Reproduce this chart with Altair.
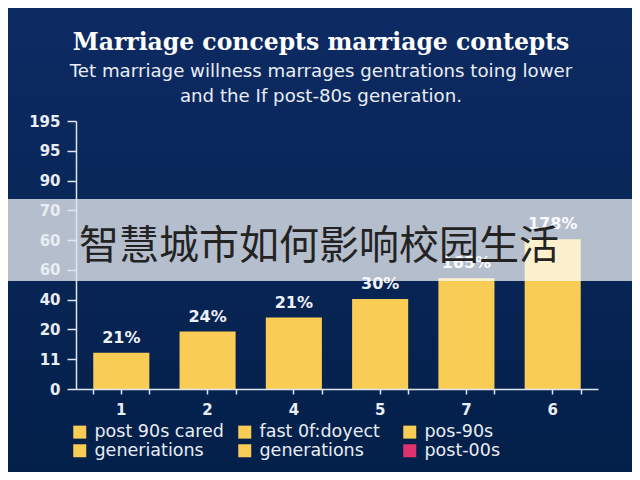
import json
import altair as alt
import pandas as pd

# ---- data ----
categories = ["1", "2", "4", "5", "7", "6"]
values = [12.2, 19.3, 24.0, 30.2, 37.2, 50.3]
bar_labels = ["21%", "24%", "21%", "30%", "165%", "178%"]
y_tick_values = [0, 10, 20, 30, 40, 50, 60, 70, 80, 90]
y_tick_labels = ["0", "11", "20", "40", "60", "60", "70", "90", "95", "195"]
# legend entries in reading order (row by row, three per row)
legend_labels = ["post 90s cared", "fast 0f:doyect", "pos-90s",
                 "generiations", "generations", "post-00s"]
legend_colors = ["#F9CD55", "#F9CD55", "#F9CD55", "#F9CD55", "#F9CD55", "#E0336E"]
title_text = "Marriage concepts marriage contepts"
subtitle_lines = ["Tet marriage willness marrages gentrations toing lower",
                  "and the If post-80s generation."]
overlay_text = "智慧城市如何影响校园生活"

YELLOW = "#F9CD55"
AXIS_COLOR = "#dfe6f0"
TEXT_COLOR = "#e9edf4"
W, H = 522, 268
PAD = {"left": 68, "top": 113, "right": 34, "bottom": 83}

# Vega fills legend grids column by column: reorder so it reads row by row
order = [0, 3, 1, 4, 2, 5]
legend_domain = [legend_labels[i] for i in order]
legend_range = [legend_colors[i] for i in order]

bars_df = pd.DataFrame({"cat": categories, "value": values, "label": bar_labels})
legend_df = pd.DataFrame({"name": legend_labels})
one = pd.DataFrame({"a": [0]})

x_scale = alt.Scale(paddingInner=0.35, paddingOuter=0.2)
y_enc = alt.Y(
    "value:Q",
    scale=alt.Scale(domain=[0, 90], nice=False, zero=True),
    axis=alt.Axis(
        values=y_tick_values,
        labelExpr=json.dumps(y_tick_labels) + "[round(datum.value / 10)]",
        title=None, grid=False, zindex=1,
        domainColor=AXIS_COLOR, domainWidth=1.5,
        tickColor=AXIS_COLOR, tickSize=9, tickWidth=1.5,
        labelFont="DejaVu Sans", labelFontSize=15, labelFontWeight="bold",
        labelColor=TEXT_COLOR, labelPadding=7,
    ),
)

background = alt.Chart(one).mark_rect(
    color=alt.LinearGradient(
        gradient="linear", x1=0, y1=0, x2=0, y2=1,
        stops=[alt.GradientStop(color="#0d2b63", offset=0),
               alt.GradientStop(color="#03204a", offset=1)],
    )
).encode(
    x=alt.value(-PAD["left"]), x2=alt.value(W + PAD["right"]),
    y=alt.value(-PAD["top"]), y2=alt.value(H + PAD["bottom"]),
)

bars = alt.Chart(bars_df).mark_bar(color=YELLOW).encode(
    x=alt.X("cat:N", sort=categories, scale=x_scale,
            axis=alt.Axis(orient="bottom", title=None, labelAngle=0,
                          tickBand="center", zindex=1, domainColor=AXIS_COLOR,
                          domainWidth=1.5, tickColor=AXIS_COLOR, tickSize=5,
                          tickWidth=1.5, labelFont="DejaVu Sans",
                          labelFontSize=15, labelFontWeight="bold",
                          labelColor=TEXT_COLOR, labelPadding=8)),
    y=y_enc,
)

labels = alt.Chart(bars_df).mark_text(
    baseline="bottom", dy=-7, font="DejaVu Sans", fontSize=16,
    fontWeight="bold", color="#eef2f8",
).encode(
    x=alt.X("cat:N", sort=categories, scale=x_scale,
            axis=alt.Axis(orient="bottom", title=None, labels=False,
                          domain=False, tickBand="extent", zindex=1,
                          tickColor=AXIS_COLOR, tickSize=5, tickWidth=1.5)),
    y=y_enc,
    text="label:N",
)

overlay = alt.Chart(one).mark_rect(color="#ffffff", opacity=0.7).encode(
    x=alt.value(-PAD["left"]), x2=alt.value(W + PAD["right"]),
    y=alt.value(78), y2=alt.value(160),
)

overlay_label = alt.Chart(one).mark_text(
    text=overlay_text, font="Noto Sans CJK SC", fontSize=40,
    color="#232323", align="center", baseline="middle",
).encode(x=alt.value(243), y=alt.value(126))

legend_layer = alt.Chart(legend_df).mark_square(opacity=0).encode(
    color=alt.Color(
        "name:N",
        scale=alt.Scale(domain=legend_domain, range=legend_range),
        legend=alt.Legend(
            title=None, orient="none", legendX=-5, legendY=302,
            columns=3, gridAlign="all", columnPadding=12, rowPadding=0,
            symbolType="square", symbolSize=169, symbolOpacity=1,
            symbolStrokeWidth=0, labelFont="DejaVu Sans", labelFontSize=17.5,
            labelColor=TEXT_COLOR, labelOffset=6, labelLimit=300, padding=0,
        ),
    ),
)

chart = alt.layer(
    background, bars, labels, overlay, overlay_label, legend_layer
).resolve_axis(x="independent").properties(
    width=W, height=H,
    autosize=alt.AutoSizeParams(type="none"),
    padding=PAD,
    background="#082456",
    title=alt.TitleParams(
        text=title_text, subtitle=subtitle_lines,
        anchor="middle", frame="group", dx=-16, dy=103, offset=6,
        font="DejaVu Serif", fontSize=23.5, fontWeight="bold", color="#ffffff",
        subtitleFont="DejaVu Sans", subtitleFontSize=18.2,
        subtitleColor=TEXT_COLOR, subtitleLineHeight=25, subtitlePadding=8,
    ),
).configure_view(stroke=None)

chart.save("out.html", embed_options={"renderer": "svg", "actions": False})
